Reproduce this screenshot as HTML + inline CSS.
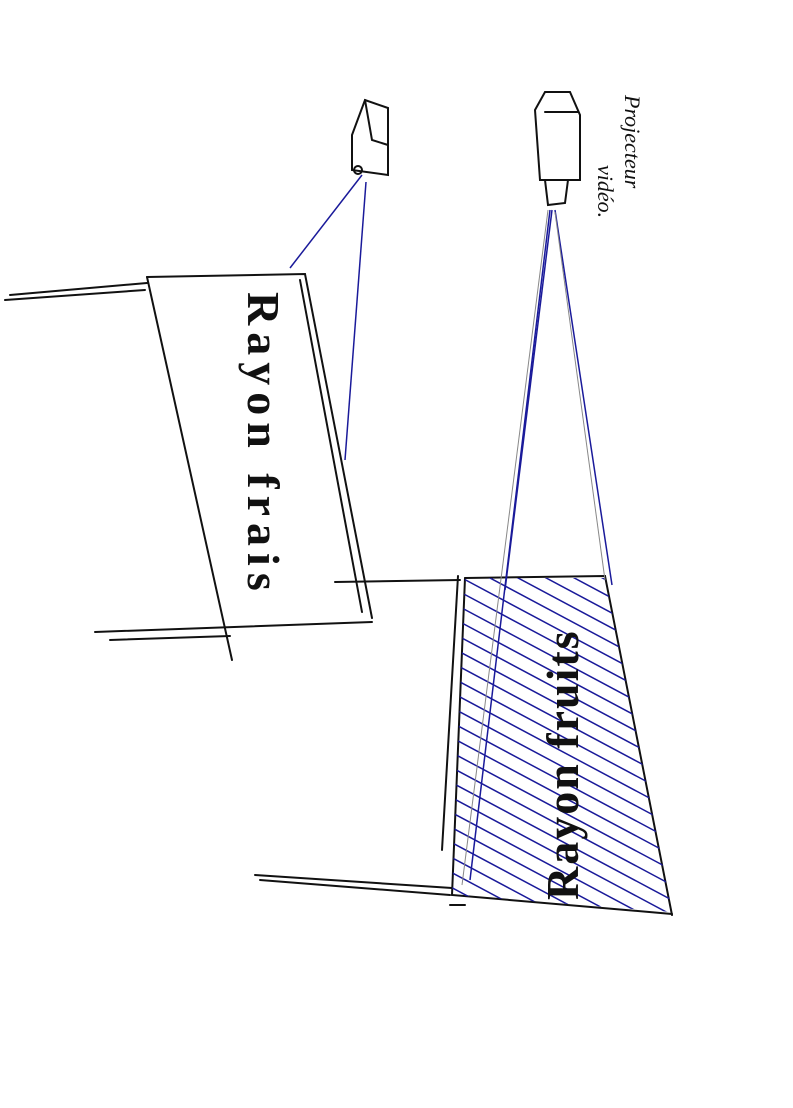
<!DOCTYPE html>
<html><head><style>body{margin:0;background:#fff}svg{display:block}</style></head><body>
<svg width="793" height="1108" viewBox="0 0 793 1108" xmlns="http://www.w3.org/2000/svg">
<defs>
<clipPath id="c"><polygon points="465,578 605,578 672,912 452,895"/></clipPath>
</defs>
<g fill="none" stroke="#111" stroke-width="2" stroke-linecap="round">
<path d="M147,277 L305,274 L372,618"/>
<path d="M147,277 L232,660"/>
<path d="M300,280 L362,612"/>
<path d="M95,632 L372,622"/>
<path d="M110,640 L230,636"/>
<path d="M10,295 L147,283"/>
<path d="M5,300 L145,290"/>
<path d="M335,582 L460,580"/>
<path d="M465,578 L605,576 L672,915"/>
<path d="M458,576 L442,850"/>
<path d="M465,578 L452,895 L672,914"/>
<path d="M255,875 L452,888"/>
<path d="M260,880 L450,895"/>
<path d="M450,905 L465,905"/>
<path d="M535,110 L545,92 L570,92 L580,115 L580,180 L540,180 Z"/>
<path d="M545,112 L578,112"/>
<path d="M545,180 L548,205 L565,203 L568,180"/>
<path d="M352,135 L365,100 L388,108 L388,175 L352,170 Z"/>
<path d="M365,100 L372,140 L388,145"/>
<circle cx="358" cy="170" r="4"/>
</g>
<g clip-path="url(#c)" stroke="#1a1a9a" stroke-width="1.5">
<path d="M400,440 L700,600 M400,455 L700,615 M400,470 L700,630 M400,485 L700,645 M400,500 L700,660 M400,515 L700,675 M400,530 L700,690 M400,545 L700,705 M400,560 L700,720 M400,575 L700,735 M400,590 L700,750 M400,605 L700,765 M400,620 L700,780 M400,635 L700,795 M400,650 L700,810 M400,665 L700,825 M400,680 L700,840 M400,695 L700,855 M400,710 L700,870 M400,725 L700,885 M400,740 L700,900 M400,755 L700,915 M400,770 L700,930 M400,785 L700,945 M400,800 L700,960 M400,815 L700,975 M400,830 L700,990 M400,845 L700,1005 M400,860 L700,1020 M400,875 L700,1035 M400,890 L700,1050 M400,905 L700,1065"/>
</g>
<g fill="none" stroke="#1a1a9a" stroke-width="1.5">
<path d="M550,210 L470,880"/>
<path d="M552,210 L505,590"/>
<path d="M555,210 L612,585"/>
<path d="M362,175 L290,268"/>
<path d="M366,182 L345,460"/>
</g>
<path d="M548,210 L462,885" stroke="#888" stroke-width="1"/>
<path d="M555,212 L605,580" stroke="#888" stroke-width="1"/>
<text transform="translate(248,292) rotate(90)" font-family="Liberation Serif,serif" font-weight="bold" font-size="46" letter-spacing="7" fill="#111">Rayon frais</text>
<text transform="translate(578,900) rotate(-90)" font-family="Liberation Serif,serif" font-weight="bold" font-size="46" letter-spacing="2" fill="#111">Rayon fruits</text>
<text transform="translate(625,95) rotate(90)" font-family="Liberation Serif,serif" font-style="italic" font-size="22" fill="#111">Projecteur</text>
<text transform="translate(598,165) rotate(90)" font-family="Liberation Serif,serif" font-style="italic" font-size="22" fill="#111">vidéo.</text>
</svg>
</body></html>
